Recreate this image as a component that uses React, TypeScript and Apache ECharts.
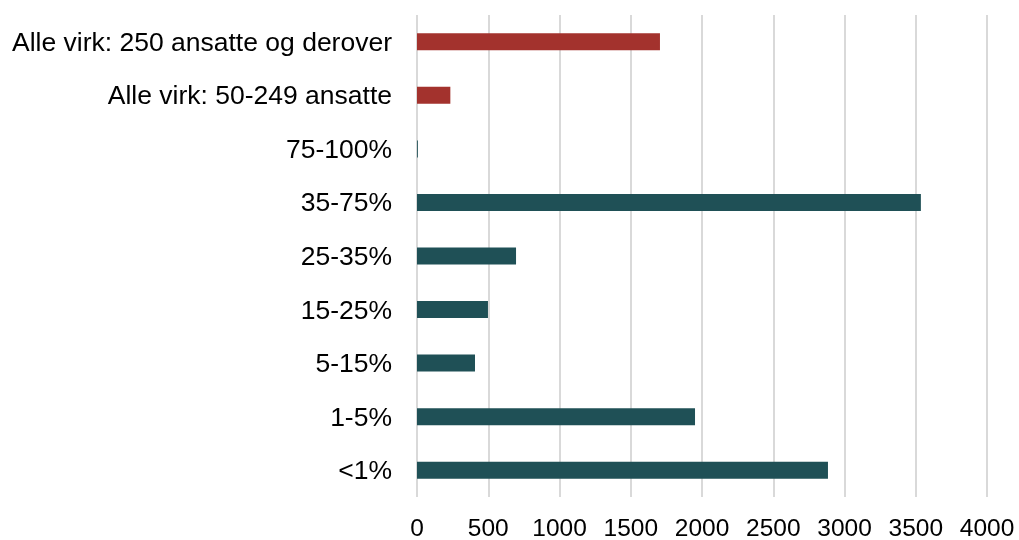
import React, { useEffect, useRef } from "react";
import * as echarts from "echarts";

const categories = [
  "Alle virk: 250 ansatte og derover",
  "Alle virk: 50-249 ansatte",
  "75-100%",
  "35-75%",
  "25-35%",
  "15-25%",
  "5-15%",
  "1-5%",
  "<1%",
];
const values = [1705, 234, 6, 3536, 695, 498, 407, 1951, 2884];
const groupFlags = [true, true, false, false, false, false, false, false, false];
const xTicks = [0, 500, 1000, 1500, 2000, 2500, 3000, 3500, 4000];

const RED = "#A3322D";
const TEAL = "#1F5056";

export default function App() {
  const ref = useRef<HTMLDivElement>(null);
  useEffect(() => {
    if (!ref.current) return;
    const chart = echarts.init(ref.current, undefined, { renderer: "svg" });
    chart.setOption({
      animation: false,
      grid: { left: 417, right: 32, top: 15, bottom: 42, containLabel: false },
      xAxis: {
        type: "value",
        min: xTicks[0],
        max: xTicks[xTicks.length - 1],
        interval: 500,
        axisLine: { show: false },
        axisTick: { show: false },
        splitLine: { show: true, lineStyle: { color: "#D9D9D9", width: 2 } },
        axisLabel: {
          fontFamily: "Liberation Sans, Arial, sans-serif",
          fontSize: 24.5,
          color: "#000",
          margin: 18,
          formatter: (v: number) => String(v),
        },
      },
      yAxis: {
        type: "category",
        inverse: true,
        data: categories,
        axisLine: { show: false },
        axisTick: { show: false },
        axisLabel: {
          fontFamily: "Liberation Sans, Arial, sans-serif",
          fontSize: 26.5,
          color: "#000",
          margin: 25,
        },
      },
      series: [
        {
          type: "bar",
          barWidth: 17,
          data: values.map((v, i) => ({
            value: v,
            itemStyle: { color: groupFlags[i] ? RED : TEAL },
          })),
        },
      ],
    });
    return () => chart.dispose();
  }, []);
  return (
    <div
      ref={ref}
      style={{ position: "fixed", left: 0, top: 0, width: 1019, height: 540 }}
    />
  );
}
